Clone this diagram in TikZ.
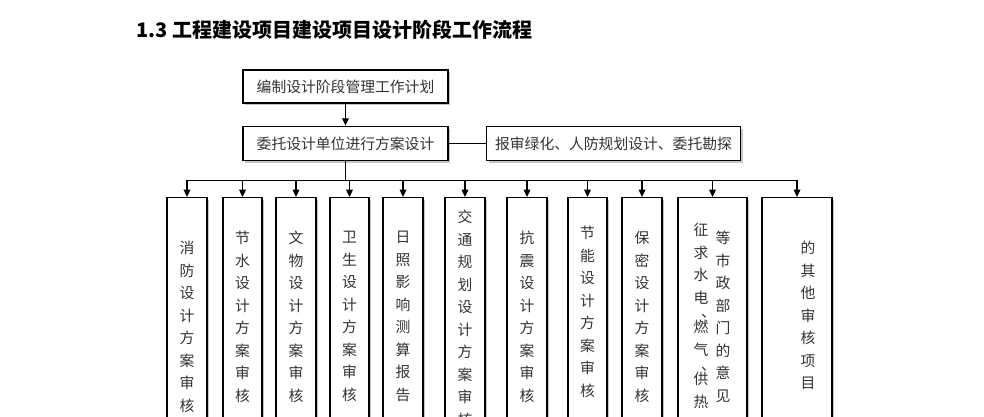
\documentclass[tikz,border=0pt]{standalone}
\usepackage{fontspec}
\newfontfamily\cjk{Noto Sans CJK SC}
\usetikzlibrary{arrows.meta,positioning,shadows}

\begin{document}
\begin{tikzpicture}[x=0.75pt, y=-0.75pt, >={Triangle[length=5.5pt,width=5pt]},
  line width=0.9pt,
  box/.style={draw, fill=white, inner sep=0pt, text=black!80, font=\cjk\fontsize{11.1}{13}\selectfont,
    drop shadow={shadow xshift=1.8pt, shadow yshift=-1.8pt, fill=black!45}},
  col/.style={box, anchor=north, minimum height=195pt},
  vtext/.style={anchor=north, align=center, inner sep=0pt, text=black!80, font=\cjk\fontsize{11.1}{16.9}\selectfont}]
  \useasboundingbox (0,0) rectangle (984,417);
  \clip (0,0) rectangle (984,417);
  % title
  \node[anchor=west, font=\cjk\bfseries\fontsize{15}{18}\selectfont] (title) at (131,30) {1.3 工程建设项目建设项目设计阶段工作流程};
  % upper boxes
  \node[box, minimum width=153.75pt, minimum height=24.75pt] (plan) at (345.5,86.5) {编制设计阶段管理工作计划};
  \node[box, minimum width=153.75pt, minimum height=26pt, below=16.5pt of plan] (scheme) {委托设计单位进行方案设计};
  \node[box, minimum width=191pt, minimum height=25.5pt, right=27.75pt of scheme] (report) {报审绿化、人防规划设计、委托勘探};
  \draw[->] (plan) -- (scheme);
  \draw (scheme) -- (report);
  % review columns
  \foreach \n/\x/\w in {fire/187/40, water/242.5/39, relic/296/40, health/349.5/39, sun/403/40,
      traffic/465/40, quake/527/40, energy/587.5/39, secret/642/40, city/712.5/69, other/797/70}
    \node[col, minimum width=\w*0.75pt] (\n) at (\x,197) {};
  \draw (scheme.south) -- ++(0,19) coordinate (bus);
  \draw (bus -| fire.north) -- (bus -| other.north);
  \foreach \n in {fire, water, relic, health, sun, traffic, quake, energy, secret, city, other}
    \draw[->] (bus -| \n.north) -- (\n.north);
  % column texts
  \node[vtext] at (187,240.5) {消\\防\\设\\计\\方\\案\\审\\核};
  \node[vtext] at (242.5,230.5) {节\\水\\设\\计\\方\\案\\审\\核};
  \node[vtext] at (296,230.5) {文\\物\\设\\计\\方\\案\\审\\核};
  \node[vtext] at (349.5,230.5) {卫\\生\\设\\计\\方\\案\\审\\核};
  \node[vtext] at (403,230.5) {日\\照\\影\\响\\测\\算\\报\\告};
  \node[vtext] at (465,209.5) {交\\通\\规\\划\\设\\计\\方\\案\\审\\核};
  \node[vtext] at (527,230.5) {抗\\震\\设\\计\\方\\案\\审\\核};
  \node[vtext] at (587.5,225.5) {节\\能\\设\\计\\方\\案\\审\\核};
  \node[vtext] at (642,230.5) {保\\密\\设\\计\\方\\案\\审\\核};
  \node[vtext] at (701,222.5) {征\\求\\水\\电\\[-5.8pt]\rlap{、}\\[-5.8pt]燃\\气\\[-5.8pt]\rlap{、}\\[-5.8pt]供\\热};
  \node[vtext] at (723,230.5) {等\\市\\政\\部\\门\\的\\意\\见};
  \node[vtext] at (808,240.5) {的\\其\\他\\审\\核\\项\\目};
\end{tikzpicture}
\end{document}
